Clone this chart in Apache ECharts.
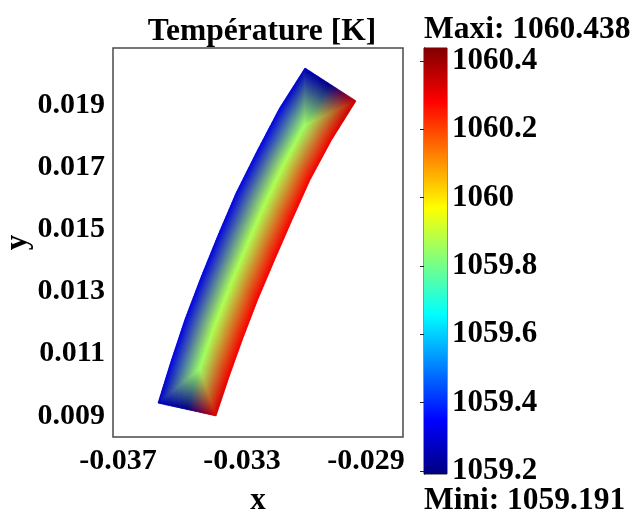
<!DOCTYPE html>
<html><head><meta charset="utf-8">
<script src="https://cdn.jsdelivr.net/npm/echarts@6/dist/echarts.min.js"></script>
<style>html,body{margin:0;padding:0;background:#fff}#c{width:633px;height:517px}</style>
</head><body><div id="c"></div>
<script>
// Mesh rows from bottom end (row 0) to top end (row 8): left edge, centre line, right edge
const leftX   = [-0.035710, -0.035290, -0.034839, -0.034323, -0.033774, -0.033194, -0.032516, -0.031806, -0.030968];
const leftY   = [ 0.009412,  0.010765,  0.012118,  0.013470,  0.014823,  0.016176,  0.017528,  0.018881,  0.020201];
const centerX = [-0.034775, -0.034355, -0.033904, -0.033404, -0.032855, -0.032291, -0.031661, -0.030968, -0.030146];
const centerY = [ 0.009203,  0.010508,  0.011812,  0.013116,  0.014437,  0.015741,  0.017061,  0.018366,  0.019670];
const rightX  = [-0.033839, -0.033419, -0.032968, -0.032484, -0.031935, -0.031387, -0.030806, -0.030129, -0.029323];
const rightY  = [ 0.008994,  0.010250,  0.011506,  0.012762,  0.014050,  0.015306,  0.016594,  0.017850,  0.019139];
// Temperatures [K] at the nodes
const tempLeft   = [1059.27, 1059.31, 1059.31, 1059.31, 1059.31, 1059.31, 1059.31, 1059.31, 1059.26];
const tempCenter = [1059.20, 1059.85, 1059.87, 1059.87, 1059.87, 1059.87, 1059.87, 1059.85, 1059.20];
const tempRight  = [1060.33, 1060.30, 1060.29, 1060.29, 1060.29, 1060.29, 1060.29, 1060.30, 1060.35];

const xTicks = [-0.037, -0.033, -0.029];
const yTicks = [0.009, 0.011, 0.013, 0.015, 0.017, 0.019];
const cbTicks = [1059.2, 1059.4, 1059.6, 1059.8, 1060, 1060.2, 1060.4];
const tMin = 1059.191, tMax = 1060.438;
const titleText = 'Température [K]';
const maxText = 'Maxi: 1060.438';
const minText = 'Mini: 1059.191';

const FONT = 'Liberation Serif';

function jet(f) {
  f = Math.max(0, Math.min(1, f));
  const c = v => Math.max(0, Math.min(1, v)) * 255;
  return [c(1.5 - Math.abs(4 * f - 3)), c(1.5 - Math.abs(4 * f - 2)), c(1.5 - Math.abs(4 * f - 1))];
}

const nodes = [];
for (let r = 0; r < leftX.length; r++) {
  nodes.push({x: leftX[r], y: leftY[r], t: tempLeft[r]});
  nodes.push({x: centerX[r], y: centerY[r], t: tempCenter[r]});
  nodes.push({x: rightX[r], y: rightY[r], t: tempRight[r]});
}
const tris = [];
const last = leftX.length - 2;
for (let r = 0; r <= last; r++) {
  const L0 = r * 3, C0 = L0 + 1, R0 = L0 + 2, L1 = L0 + 3, C1 = L0 + 4, R1 = L0 + 5;
  if (r === last) {
    tris.push([L0, C0, L1], [C0, C1, L1], [C0, R0, R1], [C0, R1, C1]);
  } else {
    tris.push([L0, C0, C1], [L0, C1, L1], [C0, R0, C1], [R0, R1, C1]);
  }
}
const triData = tris.map(t => [
  (nodes[t[0]].x + nodes[t[1]].x + nodes[t[2]].x) / 3,
  (nodes[t[0]].y + nodes[t[1]].y + nodes[t[2]].y) / 3
]);

function renderTri(params, api) {
  const tri = tris[params.dataIndex];
  const P = tri.map(i => api.coord([nodes[i].x, nodes[i].y]));
  const C = tri.map(i => jet((nodes[i].t - tMin) / (tMax - tMin)));
  const n = 30;
  const pt = (a, b) => [
    P[0][0] + a / n * (P[1][0] - P[0][0]) + b / n * (P[2][0] - P[0][0]),
    P[0][1] + a / n * (P[1][1] - P[0][1]) + b / n * (P[2][1] - P[0][1])
  ];
  const col = (a, b) => {
    const w1 = a / n, w2 = b / n, w0 = 1 - w1 - w2;
    const ch = k => Math.round(w0 * C[0][k] + w1 * C[1][k] + w2 * C[2][k]);
    return 'rgb(' + ch(0) + ',' + ch(1) + ',' + ch(2) + ')';
  };
  const children = [];
  for (let a = 0; a < n; a++) {
    for (let b = 0; b < n - a; b++) {
      const c1 = col(a + 1 / 3, b + 1 / 3);
      children.push({type: 'polygon', shape: {points: [pt(a, b), pt(a + 1, b), pt(a, b + 1)]},
        style: {fill: c1, stroke: c1, lineWidth: 0.5}, silent: true});
      if (a + b < n - 1) {
        const c2 = col(a + 2 / 3, b + 2 / 3);
        children.push({type: 'polygon', shape: {points: [pt(a + 1, b), pt(a + 1, b + 1), pt(a, b + 1)]},
          style: {fill: c2, stroke: c2, lineWidth: 0.5}, silent: true});
      }
    }
  }
  return {type: 'group', children};
}

function renderBar(params, api) {
  const p0 = api.coord([0, tMin]);
  const p1 = api.coord([1, tMax]);
  const stops = [0, 0.125, 0.375, 0.625, 0.875, 1].map(f => {
    const c = jet(f);
    return {offset: f, color: 'rgb(' + c.map(Math.round).join(',') + ')'};
  });
  return {type: 'rect', shape: {x: p0[0], y: p1[1], width: p1[0] - p0[0], height: p0[1] - p1[1]},
    style: {fill: new echarts.graphic.LinearGradient(0, 1, 0, 0, stops)}, silent: true};
}

const labelStyle = {fontFamily: FONT, fontWeight: 'bold', fontSize: 30, color: '#000'};
const bigStyle = {fontFamily: FONT, fontWeight: 'bold', fontSize: 31, color: '#000'};
const bigFont = 'bold 31.5px "' + FONT + '"';

const chart = echarts.init(document.getElementById('c'), null, {renderer: 'canvas'});
chart.setOption({
  animation: false,
  backgroundColor: '#fff',
  grid: [
    {left: 113, top: 48, width: 290, height: 389, containLabel: false, outerBoundsMode: 'none',
     show: true, borderColor: '#4a4a4a', borderWidth: 1.5, backgroundColor: 'transparent'},
    {left: 424, top: 48, width: 23, height: 426, containLabel: false, outerBoundsMode: 'none',
     show: true, borderColor: '#222', borderWidth: 1, backgroundColor: 'transparent'}
  ],
  xAxis: [
    {type: 'value', gridIndex: 0, min: -0.037161, max: -0.027806,
     name: 'x', nameLocation: 'middle', nameGap: 48, nameTextStyle: bigStyle,
     axisLine: {show: false}, axisTick: {show: false}, splitLine: {show: false},
     axisLabel: Object.assign({customValues: xTicks, margin: 9, formatter: v => v.toFixed(3)}, labelStyle)},
    {type: 'value', gridIndex: 1, min: 0, max: 1, show: false}
  ],
  yAxis: [
    {type: 'value', gridIndex: 0, min: 0.008317, max: 0.020845,
     name: 'y', nameLocation: 'middle', nameRotate: 90, nameGap: 76, nameTextStyle: bigStyle,
     axisLine: {show: false}, axisTick: {show: false}, splitLine: {show: false},
     axisLabel: Object.assign({customValues: yTicks, margin: 8, formatter: v => v.toFixed(3)}, labelStyle)},
    {type: 'value', gridIndex: 1, position: 'right', min: tMin, max: tMax,
     axisLine: {show: true, lineStyle: {color: '#222', width: 1}},
     axisTick: {show: true, inside: true, length: 4, customValues: cbTicks, lineStyle: {color: '#222'}},
     splitLine: {show: false},
     axisLabel: Object.assign({customValues: cbTicks, margin: 5, formatter: v => String(parseFloat(v.toFixed(1)))}, bigStyle)},
    {type: 'value', gridIndex: 1, position: 'left', min: tMin, max: tMax,
     axisLine: {show: true, lineStyle: {color: '#222', width: 1}},
     axisTick: {show: true, inside: true, length: 4, customValues: cbTicks, lineStyle: {color: '#222'}},
     splitLine: {show: false}, axisLabel: {show: false}}
  ],
  graphic: [
    {type: 'text', x: 262, y: 32, style: {text: titleText, font: bigFont, fill: '#000', textAlign: 'center', textVerticalAlign: 'middle'}},
    {type: 'text', x: 424, y: 30, style: {text: maxText, font: bigFont, fill: '#000', textAlign: 'left', textVerticalAlign: 'middle'}},
    {type: 'text', x: 424, y: 501, style: {text: minText, font: bigFont, fill: '#000', textAlign: 'left', textVerticalAlign: 'middle'}}
  ],
  series: [
    {type: 'custom', xAxisIndex: 0, yAxisIndex: 0, renderItem: renderTri, data: triData, silent: true},
    {type: 'custom', xAxisIndex: 1, yAxisIndex: 1, renderItem: renderBar, data: [[0, tMin]], silent: true}
  ]
});
</script></body></html>
